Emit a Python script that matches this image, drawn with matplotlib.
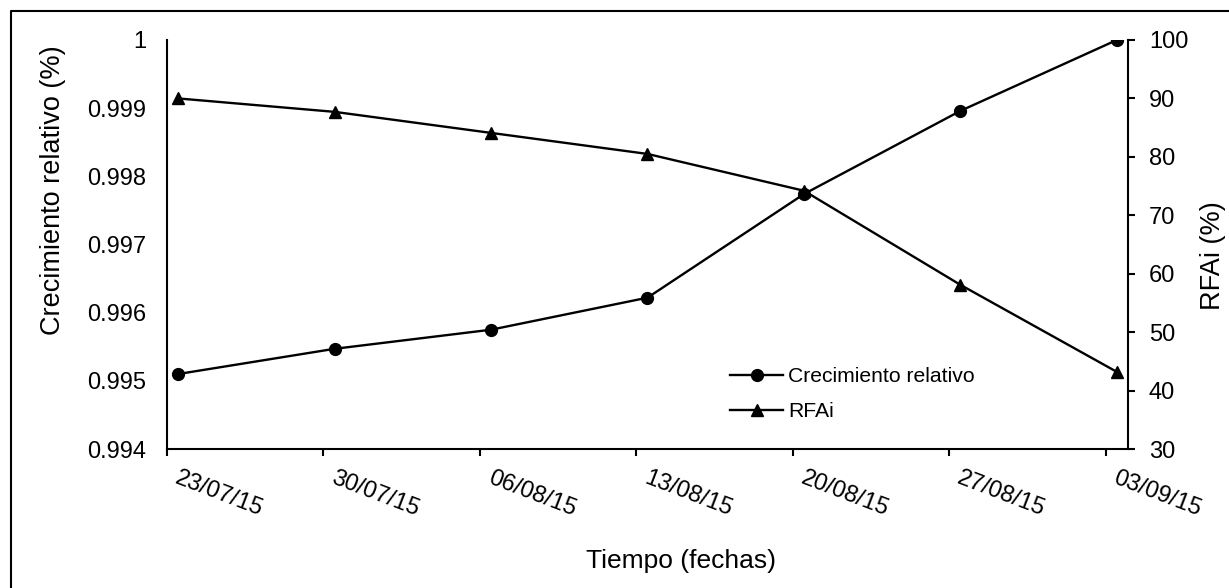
import numpy as np
import pandas as pd
import matplotlib
matplotlib.use("Agg")
import matplotlib.pyplot as plt
import matplotlib.dates as mdates
from matplotlib.lines import Line2D
from matplotlib.transforms import ScaledTranslation

plt.rcParams['font.family'] = ['Liberation Sans', 'DejaVu Sans']

# Datos
fechas = ['23/07/15', '30/07/15', '06/08/15', '13/08/15', '20/08/15', '27/08/15', '03/09/15']
crecimiento = [0.99510, 0.99547, 0.99575, 0.99622, 0.99774, 0.99896, 1.00000]
rfai = [90.0, 87.7, 84.1, 80.5, 74.2, 58.1, 43.2]

dias = pd.to_datetime(fechas, format='%d/%m/%y')
# en el eje de fechas cada punto queda en el centro de su dia
x = dias + pd.Timedelta(hours=12)

fig = plt.figure(figsize=(12.29, 5.88), dpi=100)
ax = fig.add_axes([167/1229, 1 - 449/588, (1128 - 167)/1229, (449 - 40)/588])
ax2 = ax.twinx()

l1, = ax.plot(x, crecimiento, color='black', lw=1.7, marker='o', markersize=8.5,
              label='Crecimiento relativo')
l2, = ax2.plot(x, rfai, color='black', lw=1.7, marker='^', markersize=8.5,
               label='RFAi')

ax.set_xlim(dias[0], dias[-1] + pd.Timedelta(days=1))
ax.set_ylim(0.994, 1.0)
ax.set_yticks(np.arange(0.994, 1.0001, 0.001))
ax.set_yticklabels(['0.994', '0.995', '0.996', '0.997', '0.998', '0.999', '1'])
ax2.set_ylim(30, 100)
ax2.set_yticks(np.arange(30, 101, 10))

ax.set_xticks(dias)
ax.xaxis.set_major_formatter(mdates.DateFormatter('%d/%m/%y'))

for a in (ax, ax2):
    for s in a.spines.values():
        s.set_linewidth(1.5)
    a.spines['top'].set_visible(False)
ax.spines['right'].set_visible(False)
ax2.spines['left'].set_visible(False)
ax2.spines['bottom'].set_visible(False)

ax.tick_params(axis='y', length=0, pad=15, labelsize=17)
ax.tick_params(axis='x', direction='out', length=5, width=1.5, pad=8, labelsize=17)
ax2.tick_params(axis='y', direction='out', length=5, width=1.5, pad=10, labelsize=17)

for lab in ax.get_xticklabels():
    lab.set_rotation(-21)
    lab.set_ha('left')
    lab.set_va('top')
    lab.set_rotation_mode('anchor')
    lab.set_transform(lab.get_transform() + ScaledTranslation(0.13, 0, fig.dpi_scale_trans))

ax.set_ylabel('Crecimiento relativo (%)', fontsize=19.5, va='center')
ax.yaxis.set_label_coords(-0.1186, 0.633)
ax2.set_ylabel('RFAi (%)', fontsize=19.5, va='center', rotation=90)
ax2.yaxis.set_label_coords(1.0885, 0.474)
ax.set_xlabel('Tiempo (fechas)', fontsize=19, va='center')
ax.xaxis.set_label_coords(0.535, -0.274)

ax.legend([l1, l2], ['Crecimiento relativo', 'RFAi'], loc='center left',
          bbox_to_anchor=(0.586, 0.1345), frameon=False, fontsize=15.2,
          handlelength=2.5, handletextpad=0.25, labelspacing=0.75,
          borderpad=0, borderaxespad=0)

# marco del grafico (solo se ve arriba y a la izquierda)
fig.add_artist(Line2D([11/1229, 11/1229, 1.0], [0.0, 1 - 11/588, 1 - 11/588],
                      transform=fig.transFigure, color='black', lw=1.5))

fig.savefig('out.png', dpi=100)
